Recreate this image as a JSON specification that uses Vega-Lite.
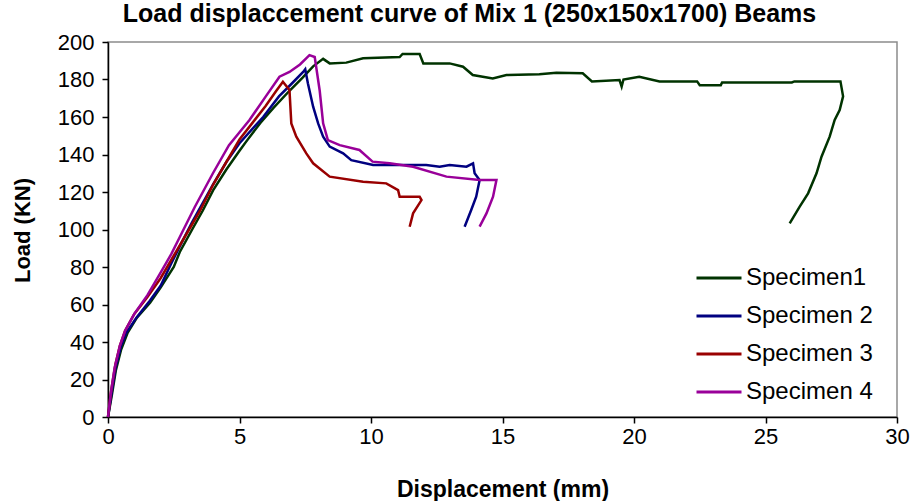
{
  "$schema": "https://vega.github.io/schema/vega-lite/v6.json",
  "width": 789,
  "height": 375,
  "autosize": {"type": "none"},
  "padding": {"left": 108, "top": 42, "right": 22, "bottom": 84},
  "background": "white",
  "config": {
    "view": {"stroke": "#8c8c8c", "strokeWidth": 1.5},
    "font": "Liberation Sans"
  },
  "title": {
    "text": "Load displaccement curve of Mix 1 (250x150x1700) Beams",
    "font": "Liberation Sans",
    "fontSize": 25,
    "fontWeight": "bold",
    "color": "#000000",
    "anchor": "middle",
    "offset": 4,
    "dx": -33
  },
  "data": {
    "values": [
      {"s": "Specimen1", "i": 0, "x": 0, "y": 0},
      {"s": "Specimen1", "i": 1, "x": 0.15, "y": 12},
      {"s": "Specimen1", "i": 2, "x": 0.3, "y": 25},
      {"s": "Specimen1", "i": 3, "x": 0.5, "y": 36},
      {"s": "Specimen1", "i": 4, "x": 0.75, "y": 45},
      {"s": "Specimen1", "i": 5, "x": 1.1, "y": 53},
      {"s": "Specimen1", "i": 6, "x": 1.6, "y": 61},
      {"s": "Specimen1", "i": 7, "x": 2.0, "y": 69},
      {"s": "Specimen1", "i": 8, "x": 2.5, "y": 80},
      {"s": "Specimen1", "i": 9, "x": 2.73, "y": 88},
      {"s": "Specimen1", "i": 10, "x": 3.2, "y": 100},
      {"s": "Specimen1", "i": 11, "x": 3.6, "y": 110},
      {"s": "Specimen1", "i": 12, "x": 4.0, "y": 121},
      {"s": "Specimen1", "i": 13, "x": 4.5, "y": 132},
      {"s": "Specimen1", "i": 14, "x": 5.0, "y": 142},
      {"s": "Specimen1", "i": 15, "x": 5.26, "y": 147},
      {"s": "Specimen1", "i": 16, "x": 5.8, "y": 157},
      {"s": "Specimen1", "i": 17, "x": 6.3, "y": 165},
      {"s": "Specimen1", "i": 18, "x": 6.9, "y": 174},
      {"s": "Specimen1", "i": 19, "x": 7.4, "y": 181},
      {"s": "Specimen1", "i": 20, "x": 7.8, "y": 187},
      {"s": "Specimen1", "i": 21, "x": 8.18, "y": 191},
      {"s": "Specimen1", "i": 22, "x": 8.43, "y": 188.6},
      {"s": "Specimen1", "i": 23, "x": 9.06, "y": 189},
      {"s": "Specimen1", "i": 24, "x": 9.7, "y": 191.3},
      {"s": "Specimen1", "i": 25, "x": 11.09, "y": 192},
      {"s": "Specimen1", "i": 26, "x": 11.2, "y": 193.6},
      {"s": "Specimen1", "i": 27, "x": 11.85, "y": 193.6},
      {"s": "Specimen1", "i": 28, "x": 11.99, "y": 188.6},
      {"s": "Specimen1", "i": 29, "x": 12.99, "y": 188.6},
      {"s": "Specimen1", "i": 30, "x": 13.5, "y": 186.8},
      {"s": "Specimen1", "i": 31, "x": 13.87, "y": 182.4},
      {"s": "Specimen1", "i": 32, "x": 14.63, "y": 180.6},
      {"s": "Specimen1", "i": 33, "x": 15.15, "y": 182.4},
      {"s": "Specimen1", "i": 34, "x": 16.4, "y": 182.8},
      {"s": "Specimen1", "i": 35, "x": 17.05, "y": 183.6},
      {"s": "Specimen1", "i": 36, "x": 18.05, "y": 183.3},
      {"s": "Specimen1", "i": 37, "x": 18.4, "y": 179},
      {"s": "Specimen1", "i": 38, "x": 19.45, "y": 179.7},
      {"s": "Specimen1", "i": 39, "x": 19.53, "y": 176.2},
      {"s": "Specimen1", "i": 40, "x": 19.6, "y": 180},
      {"s": "Specimen1", "i": 41, "x": 20.2, "y": 181.5},
      {"s": "Specimen1", "i": 42, "x": 20.97, "y": 179},
      {"s": "Specimen1", "i": 43, "x": 22.4, "y": 179},
      {"s": "Specimen1", "i": 44, "x": 22.5, "y": 177},
      {"s": "Specimen1", "i": 45, "x": 23.3, "y": 177},
      {"s": "Specimen1", "i": 46, "x": 23.35, "y": 178.4},
      {"s": "Specimen1", "i": 47, "x": 26.0, "y": 178.4},
      {"s": "Specimen1", "i": 48, "x": 26.1, "y": 179},
      {"s": "Specimen1", "i": 49, "x": 27.85, "y": 179},
      {"s": "Specimen1", "i": 50, "x": 27.95, "y": 171},
      {"s": "Specimen1", "i": 51, "x": 27.82, "y": 163.7},
      {"s": "Specimen1", "i": 52, "x": 27.63, "y": 158.4},
      {"s": "Specimen1", "i": 53, "x": 27.44, "y": 149.5},
      {"s": "Specimen1", "i": 54, "x": 27.13, "y": 138.8},
      {"s": "Specimen1", "i": 55, "x": 26.94, "y": 130},
      {"s": "Specimen1", "i": 56, "x": 26.62, "y": 119.3},
      {"s": "Specimen1", "i": 57, "x": 26.3, "y": 112.2},
      {"s": "Specimen1", "i": 58, "x": 25.92, "y": 103.3},

      {"s": "Specimen 2", "i": 0, "x": 0, "y": 0},
      {"s": "Specimen 2", "i": 1, "x": 0.15, "y": 14},
      {"s": "Specimen 2", "i": 2, "x": 0.3, "y": 27},
      {"s": "Specimen 2", "i": 3, "x": 0.5, "y": 38},
      {"s": "Specimen 2", "i": 4, "x": 0.7, "y": 45},
      {"s": "Specimen 2", "i": 5, "x": 1.08, "y": 53},
      {"s": "Specimen 2", "i": 6, "x": 1.59, "y": 62},
      {"s": "Specimen 2", "i": 7, "x": 2.0, "y": 70},
      {"s": "Specimen 2", "i": 8, "x": 2.41, "y": 82},
      {"s": "Specimen 2", "i": 9, "x": 2.8, "y": 93},
      {"s": "Specimen 2", "i": 10, "x": 3.2, "y": 104},
      {"s": "Specimen 2", "i": 11, "x": 3.99, "y": 124},
      {"s": "Specimen 2", "i": 12, "x": 4.5, "y": 136},
      {"s": "Specimen 2", "i": 13, "x": 5.0, "y": 146},
      {"s": "Specimen 2", "i": 14, "x": 5.9, "y": 160},
      {"s": "Specimen 2", "i": 15, "x": 6.5, "y": 171},
      {"s": "Specimen 2", "i": 16, "x": 7.0, "y": 178},
      {"s": "Specimen 2", "i": 17, "x": 7.42, "y": 184},
      {"s": "Specimen 2", "i": 18, "x": 7.5, "y": 185.5},
      {"s": "Specimen 2", "i": 19, "x": 7.6, "y": 178},
      {"s": "Specimen 2", "i": 20, "x": 7.8, "y": 165.5},
      {"s": "Specimen 2", "i": 21, "x": 7.99, "y": 156.6},
      {"s": "Specimen 2", "i": 22, "x": 8.18, "y": 149.5},
      {"s": "Specimen 2", "i": 23, "x": 8.43, "y": 144.2},
      {"s": "Specimen 2", "i": 24, "x": 8.94, "y": 140.6},
      {"s": "Specimen 2", "i": 25, "x": 9.25, "y": 137},
      {"s": "Specimen 2", "i": 26, "x": 10.08, "y": 134.4},
      {"s": "Specimen 2", "i": 27, "x": 12.1, "y": 134.4},
      {"s": "Specimen 2", "i": 28, "x": 12.61, "y": 133.5},
      {"s": "Specimen 2", "i": 29, "x": 12.99, "y": 134.4},
      {"s": "Specimen 2", "i": 30, "x": 13.63, "y": 133.5},
      {"s": "Specimen 2", "i": 31, "x": 13.88, "y": 135.3},
      {"s": "Specimen 2", "i": 32, "x": 13.94, "y": 130},
      {"s": "Specimen 2", "i": 33, "x": 14.13, "y": 126.4},
      {"s": "Specimen 2", "i": 34, "x": 14.0, "y": 117.5},
      {"s": "Specimen 2", "i": 35, "x": 13.81, "y": 110.4},
      {"s": "Specimen 2", "i": 36, "x": 13.56, "y": 101.5},

      {"s": "Specimen 3", "i": 0, "x": 0, "y": 0},
      {"s": "Specimen 3", "i": 1, "x": 0.12, "y": 14},
      {"s": "Specimen 3", "i": 2, "x": 0.28, "y": 28},
      {"s": "Specimen 3", "i": 3, "x": 0.45, "y": 38},
      {"s": "Specimen 3", "i": 4, "x": 0.65, "y": 46},
      {"s": "Specimen 3", "i": 5, "x": 1.0, "y": 55},
      {"s": "Specimen 3", "i": 6, "x": 1.5, "y": 64},
      {"s": "Specimen 3", "i": 7, "x": 2.0, "y": 74},
      {"s": "Specimen 3", "i": 8, "x": 2.5, "y": 86},
      {"s": "Specimen 3", "i": 9, "x": 3.0, "y": 98},
      {"s": "Specimen 3", "i": 10, "x": 3.5, "y": 110},
      {"s": "Specimen 3", "i": 11, "x": 4.0, "y": 124},
      {"s": "Specimen 3", "i": 12, "x": 4.5, "y": 136},
      {"s": "Specimen 3", "i": 13, "x": 5.0, "y": 148},
      {"s": "Specimen 3", "i": 14, "x": 5.5, "y": 157},
      {"s": "Specimen 3", "i": 15, "x": 6.0, "y": 166},
      {"s": "Specimen 3", "i": 16, "x": 6.4, "y": 174},
      {"s": "Specimen 3", "i": 17, "x": 6.65, "y": 178.8},
      {"s": "Specimen 3", "i": 18, "x": 6.9, "y": 174.4},
      {"s": "Specimen 3", "i": 19, "x": 6.97, "y": 156.6},
      {"s": "Specimen 3", "i": 20, "x": 7.16, "y": 149.5},
      {"s": "Specimen 3", "i": 21, "x": 7.54, "y": 140.6},
      {"s": "Specimen 3", "i": 22, "x": 7.8, "y": 135.3},
      {"s": "Specimen 3", "i": 23, "x": 8.43, "y": 128.2},
      {"s": "Specimen 3", "i": 24, "x": 9.7, "y": 125.5},
      {"s": "Specimen 3", "i": 25, "x": 10.58, "y": 124.6},
      {"s": "Specimen 3", "i": 26, "x": 11.03, "y": 121},
      {"s": "Specimen 3", "i": 27, "x": 11.09, "y": 117.5},
      {"s": "Specimen 3", "i": 28, "x": 11.85, "y": 117.5},
      {"s": "Specimen 3", "i": 29, "x": 11.92, "y": 115.7},
      {"s": "Specimen 3", "i": 30, "x": 11.6, "y": 108.6},
      {"s": "Specimen 3", "i": 31, "x": 11.47, "y": 101.5},

      {"s": "Specimen 4", "i": 0, "x": 0, "y": 0},
      {"s": "Specimen 4", "i": 1, "x": 0.1, "y": 12},
      {"s": "Specimen 4", "i": 2, "x": 0.25, "y": 26},
      {"s": "Specimen 4", "i": 3, "x": 0.45, "y": 38},
      {"s": "Specimen 4", "i": 4, "x": 0.65, "y": 46},
      {"s": "Specimen 4", "i": 5, "x": 1.0, "y": 55},
      {"s": "Specimen 4", "i": 6, "x": 1.5, "y": 65},
      {"s": "Specimen 4", "i": 7, "x": 2.0, "y": 77},
      {"s": "Specimen 4", "i": 8, "x": 2.41, "y": 87},
      {"s": "Specimen 4", "i": 9, "x": 2.73, "y": 96},
      {"s": "Specimen 4", "i": 10, "x": 3.3, "y": 112},
      {"s": "Specimen 4", "i": 11, "x": 3.99, "y": 130},
      {"s": "Specimen 4", "i": 12, "x": 4.6, "y": 145},
      {"s": "Specimen 4", "i": 13, "x": 5.38, "y": 158.4},
      {"s": "Specimen 4", "i": 14, "x": 6.0, "y": 171},
      {"s": "Specimen 4", "i": 15, "x": 6.52, "y": 181.5},
      {"s": "Specimen 4", "i": 16, "x": 6.9, "y": 184},
      {"s": "Specimen 4", "i": 17, "x": 7.3, "y": 188},
      {"s": "Specimen 4", "i": 18, "x": 7.66, "y": 193},
      {"s": "Specimen 4", "i": 19, "x": 7.86, "y": 192},
      {"s": "Specimen 4", "i": 20, "x": 8.05, "y": 174},
      {"s": "Specimen 4", "i": 21, "x": 8.18, "y": 156.6},
      {"s": "Specimen 4", "i": 22, "x": 8.36, "y": 147.7},
      {"s": "Specimen 4", "i": 23, "x": 8.81, "y": 145},
      {"s": "Specimen 4", "i": 24, "x": 9.56, "y": 142.4},
      {"s": "Specimen 4", "i": 25, "x": 10.06, "y": 136.2},
      {"s": "Specimen 4", "i": 26, "x": 10.71, "y": 135.3},
      {"s": "Specimen 4", "i": 27, "x": 11.6, "y": 133.5},
      {"s": "Specimen 4", "i": 28, "x": 12.87, "y": 128.2},
      {"s": "Specimen 4", "i": 29, "x": 14.13, "y": 126.4},
      {"s": "Specimen 4", "i": 30, "x": 14.77, "y": 126.4},
      {"s": "Specimen 4", "i": 31, "x": 14.64, "y": 117.5},
      {"s": "Specimen 4", "i": 32, "x": 14.39, "y": 108.6},
      {"s": "Specimen 4", "i": 33, "x": 14.13, "y": 101.5}
    ]
  },
  "mark": {"type": "line", "strokeWidth": 2.5, "interpolate": "linear"},
  "encoding": {
    "x": {
      "field": "x",
      "type": "quantitative",
      "scale": {"domain": [0, 30], "nice": false, "zero": false},
      "axis": {
        "values": [0, 5, 10, 15, 20, 25, 30],
        "grid": false,
        "title": "Displacement (mm)",
        "titleFontSize": 23,
        "titleFontWeight": "bold",
        "titleColor": "#000000",
        "titleFont": "Liberation Sans",
        "titlePadding": 31,
        "labelFont": "Liberation Sans",
        "labelFontSize": 22,
        "labelColor": "#000000",
        "labelPadding": 3,
        "labelFlush": false,
        "domainColor": "#000000",
        "domainWidth": 1.5,
        "tickColor": "#000000",
        "tickWidth": 1.5,
        "tickSize": 6
      }
    },
    "y": {
      "field": "y",
      "type": "quantitative",
      "scale": {"domain": [0, 200], "nice": false},
      "axis": {
        "values": [0, 20, 40, 60, 80, 100, 120, 140, 160, 180, 200],
        "grid": false,
        "title": "Load (KN)",
        "titleFontSize": 22,
        "titleFontWeight": "bold",
        "titleColor": "#000000",
        "titleFont": "Liberation Sans",
        "titleX": -86,
        "titleY": 188,
        "titleAlign": "center",
        "titleBaseline": "middle",
        "labelFont": "Liberation Sans",
        "labelFontSize": 22,
        "labelColor": "#000000",
        "labelPadding": 8,
        "labelFlush": false,
        "domainColor": "#000000",
        "domainWidth": 1.5,
        "tickColor": "#000000",
        "tickWidth": 1.5,
        "tickSize": 6
      }
    },
    "color": {
      "field": "s",
      "type": "nominal",
      "scale": {
        "domain": ["Specimen1", "Specimen 2", "Specimen 3", "Specimen 4"],
        "range": ["#003300", "#000080", "#990000", "#990099"]
      },
      "legend": {
        "title": null,
        "orient": "none",
        "legendX": 587,
        "legendY": 212,
        "symbolType": "stroke",
        "symbolSize": 2025,
        "symbolStrokeWidth": 3,
        "labelFont": "Liberation Sans",
        "labelFontSize": 24,
        "labelColor": "#000000",
        "labelOffset": 3,
        "rowPadding": 2
      }
    },
    "order": {"field": "i", "type": "quantitative"}
  }
}
